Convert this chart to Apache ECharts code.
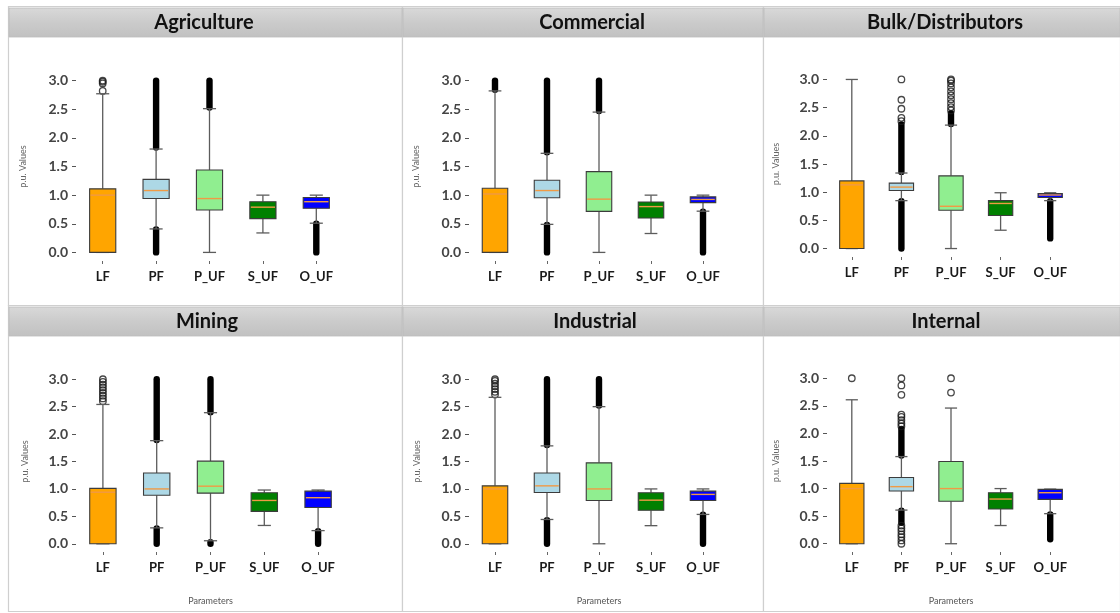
<!DOCTYPE html>
<html>
<head>
<meta charset="utf-8">
<script src="https://cdn.jsdelivr.net/npm/echarts@6/dist/echarts.min.js"></script>
<style>
html,body{margin:0;padding:0;background:#fff;}
#chart{width:1120px;height:613px;}
</style>
</head>
<body>
<div id="chart"></div>
<script>
// ---------- DATA ----------
const categories = ['LF', 'PF', 'P_UF', 'S_UF', 'O_UF'];
const panelTitles = ['Agriculture', 'Commercial', 'Bulk/Distributors', 'Mining', 'Industrial', 'Internal'];
const yTicks = [0, 0.5, 1.0, 1.5, 2.0, 2.5, 3.0];
const yAxisName = 'p.u. Values';
const xAxisName = 'Parameters';

// box stats per category: [lower whisker, Q1, median, Q3, upper whisker]
const agricultureStats = [
  [0, 0, 1.0, 1.11, 2.77],
  [0.41, 0.94, 1.08, 1.275, 1.805],
  [0, 0.74, 0.94, 1.44, 2.51],
  [0.34, 0.59, 0.79, 0.885, 1.0],
  [0.51, 0.77, 0.885, 0.96, 1.0]
];
const commercialStats = [
  [0, 0, 1.02, 1.12, 2.82],
  [0.49, 0.955, 1.08, 1.26, 1.73],
  [0, 0.716, 0.93, 1.41, 2.45],
  [0.33, 0.60, 0.80, 0.88, 1.0],
  [0.72, 0.87, 0.925, 0.97, 1.0]
];
const bulkStats = [
  [0, 0, 1.13, 1.2, 3.0],
  [0.85, 1.03, 1.09, 1.16, 1.34],
  [0, 0.68, 0.75, 1.29, 2.19],
  [0.325, 0.585, 0.80, 0.85, 0.99],
  [0.85, 0.905, 0.95, 0.975, 0.99]
];
const miningStats = [
  [0, 0, 0.94, 1.01, 2.54],
  [0.29, 0.886, 1.0, 1.29, 1.88],
  [0.055, 0.923, 1.05, 1.506, 2.39],
  [0.334, 0.59, 0.79, 0.93, 0.98],
  [0.24, 0.66, 0.84, 0.96, 0.98]
];
const industrialStats = [
  [0, 0, 1.0, 1.056, 2.67],
  [0.443, 0.935, 1.056, 1.29, 1.785],
  [0, 0.79, 1.0, 1.475, 2.5],
  [0.33, 0.61, 0.795, 0.93, 1.0],
  [0.535, 0.79, 0.9, 0.96, 1.0]
];
const internalStats = [
  [0, 0, 1.0, 1.095, 2.61],
  [0.61, 0.955, 1.035, 1.2, 1.58],
  [0, 0.77, 1.0, 1.49, 2.46],
  [0.33, 0.63, 0.81, 0.925, 1.0],
  [0.545, 0.805, 0.925, 0.985, 0.99]
];

// dense outlier runs (overlapping fliers): [category index, from, to]
const agricultureDense = [[1, 1.83, 3.0], [1, 0, 0.40], [2, 2.53, 3.0], [4, 0, 0.50]];
const commercialDense = [[0, 2.84, 3.0], [1, 1.75, 3.0], [1, 0, 0.48], [2, 2.47, 3.0], [4, 0, 0.71]];
const bulkDense = [[1, 1.36, 2.2], [1, 0, 0.84], [2, 2.21, 2.4], [4, 0.18, 0.84]];
const miningDense = [[1, 1.89, 3.0], [1, 0, 0.28], [2, 2.4, 3.0], [2, 0, 0.03], [4, 0, 0.23]];
const industrialDense = [[1, 1.8, 3.0], [1, 0, 0.43], [2, 2.52, 3.0], [4, 0, 0.53]];
const internalDense = [[1, 1.6, 2.08], [1, 0.38, 0.6], [4, 0.08, 0.53]];

// individual outliers: [category index, value]
const agricultureOutliers = [[0, 2.82], [0, 2.95], [0, 2.98], [0, 3.0]];
const commercialOutliers = [];
const bulkOutliers = [[1, 2.26], [1, 2.32], [1, 2.48], [1, 2.64], [1, 3.0],
  [2, 2.45], [2, 2.51], [2, 2.58], [2, 2.65], [2, 2.72], [2, 2.79], [2, 2.86], [2, 2.93], [2, 2.98], [2, 3.0]];
const miningOutliers = [[0, 2.6], [0, 2.65], [0, 2.7], [0, 2.75], [0, 2.8], [0, 2.85], [0, 2.9], [0, 2.95], [0, 3.0]];
const industrialOutliers = [[0, 2.72], [0, 2.77], [0, 2.82], [0, 2.87], [0, 2.92], [0, 2.97], [0, 3.0]];
const internalOutliers = [[0, 3.0], [1, 2.13], [1, 2.18], [1, 2.24], [1, 2.3], [1, 2.34], [1, 2.7], [1, 2.87], [1, 3.0],
  [1, 0.33], [1, 0.28], [1, 0.23], [1, 0.17], [1, 0.12], [1, 0.06], [1, 0.0], [2, 2.74], [2, 3.0]];

const allStats = [agricultureStats, commercialStats, bulkStats, miningStats, industrialStats, internalStats];
const allDense = [agricultureDense, commercialDense, bulkDense, miningDense, industrialDense, internalDense];
const allOutliers = [agricultureOutliers, commercialOutliers, bulkOutliers, miningOutliers, industrialOutliers, internalOutliers];

// ---------- STYLE / LAYOUT ----------
const boxColors = ['#FFA500', '#ADD8E6', '#90EE90', '#008000', '#0000FF'];
const medianColor = '#f09a45';
const FONT = 'Lato, "Open Sans", sans-serif';

const layout = [
  {left: 76, top: 72, width: 267, height: 189, nameGap: 48, tx: 204, ty: 23, showX: false},
  {left: 469, top: 72, width: 260, height: 189, nameGap: 48, tx: 592, ty: 23, showX: false},
  {left: 827, top: 71, width: 248, height: 186, nameGap: 46, tx: 945, ty: 23, showX: false},
  {left: 76, top: 371, width: 269, height: 181, nameGap: 46, tx: 207, ty: 322, showX: true},
  {left: 469, top: 371, width: 260, height: 181, nameGap: 47, tx: 595, ty: 322, showX: true},
  {left: 827, top: 370, width: 248, height: 182, nameGap: 46, tx: 946, ty: 322, showX: true}
];

function renderBox(params, api) {
  const c = api.value(0);
  const p = [1, 2, 3, 4, 5].map(i => api.coord([c, api.value(i)]));
  const x = p[0][0];
  const bw = api.size([1, 0])[0] * 0.49;
  const cw = bw * 0.5;
  const wStyle = {stroke: '#5c5c5c', lineWidth: 1.3, fill: null};
  return {
    type: 'group',
    children: [
      {type: 'line', shape: {x1: x, y1: p[0][1], x2: x, y2: p[1][1]}, style: wStyle},
      {type: 'line', shape: {x1: x, y1: p[3][1], x2: x, y2: p[4][1]}, style: wStyle},
      {type: 'line', shape: {x1: x - cw / 2, y1: p[0][1], x2: x + cw / 2, y2: p[0][1]}, style: wStyle},
      {type: 'line', shape: {x1: x - cw / 2, y1: p[4][1], x2: x + cw / 2, y2: p[4][1]}, style: wStyle},
      {type: 'rect', shape: {x: x - bw / 2, y: p[3][1], width: bw, height: p[1][1] - p[3][1]},
        style: {fill: boxColors[c], stroke: '#3c3c3c', lineWidth: 1.1}},
      {type: 'line', shape: {x1: x - bw / 2 + 1, y1: p[2][1], x2: x + bw / 2 - 1, y2: p[2][1]},
        style: {stroke: medianColor, lineWidth: 1.4}}
    ]
  };
}

function renderDense(params, api) {
  const c = api.value(0);
  const a = api.coord([c, api.value(1)]);
  const b = api.coord([c, api.value(2)]);
  return {
    type: 'line',
    shape: {x1: a[0], y1: a[1], x2: b[0], y2: b[1]},
    style: {stroke: '#000', lineWidth: 6.4, lineCap: 'round'}
  };
}

const grids = [], xAxes = [], yAxes = [], series = [], graphics = [];

// panel frames & headers
const cols = [[8, 402], [402, 763], [763, 1120]];
const rows = [[6, 305, 8, 37], [305, 611, 307, 336]];
rows.forEach(r => {
  cols.forEach(cx => {
    graphics.push({type: 'rect', z: 0, shape: {x: cx[0] + 0.5, y: r[0] + 0.5, width: cx[1] - cx[0], height: r[1] - r[0]},
      style: {fill: '#fff', stroke: '#cfcfcf', lineWidth: 1.2}});
    graphics.push({type: 'rect', z: 1, shape: {x: cx[0] + 1, y: r[2], width: cx[1] - cx[0] - 1, height: r[3] - r[2]},
      style: {fill: new echarts.graphic.LinearGradient(0, 0, 0, 1, [
        {offset: 0, color: '#d9d9d9'}, {offset: 0.5, color: '#cbcbcb'}, {offset: 1, color: '#c1c1c1'}]),
        stroke: '#bdbdbd', lineWidth: 0.8}});
  });
});

panelTitles.forEach((t, i) => {
  const L = layout[i];
  graphics.push({type: 'text', z: 5, x: L.tx, y: L.ty,
    style: {text: t, font: 'bold 20px ' + FONT, fill: '#111', textAlign: 'center', textVerticalAlign: 'middle'}});

  grids.push({left: L.left, top: L.top, width: L.width, height: L.height, show: true,
    borderColor: '#5a5a5a', borderWidth: 1, backgroundColor: '#fff', containLabel: false});

  xAxes.push({type: 'category', gridIndex: i, data: categories, boundaryGap: true, position: 'bottom',
    name: L.showX ? xAxisName : '', nameLocation: 'middle', nameGap: 45,
    nameTextStyle: {fontSize: 9, color: '#555', fontFamily: FONT},
    axisLine: {show: false, onZero: false},
    axisTick: {show: true, alignWithLabel: true, length: 3, lineStyle: {color: '#666'}},
    axisLabel: {fontSize: 13, fontWeight: 'bold', color: '#1a1a1a', fontFamily: FONT, margin: 9},
    splitLine: {show: false}});

  yAxes.push({type: 'value', gridIndex: i, min: -0.15, max: 3.15,
    name: yAxisName, nameLocation: 'middle', nameGap: L.nameGap, nameRotate: 90,
    nameTextStyle: {fontSize: 9, color: '#666', fontFamily: FONT},
    axisLine: {show: false},
    axisTick: {show: true, length: 4, customValues: yTicks, lineStyle: {color: '#555'}},
    axisLabel: {customValues: yTicks, formatter: v => Number(v).toFixed(1), fontSize: 14,
      fontWeight: 'bold', color: '#444', fontFamily: FONT, margin: 8},
    splitLine: {show: false}});

  series.push({type: 'custom', xAxisIndex: i, yAxisIndex: i, z: 2,
    data: allDense[i], encode: {x: 0, y: [1, 2]}, renderItem: renderDense, silent: true});
  series.push({type: 'scatter', xAxisIndex: i, yAxisIndex: i, z: 2,
    data: allOutliers[i], symbol: 'circle', symbolSize: 6.5,
    itemStyle: {color: 'rgba(255,255,255,0)', borderColor: '#1a1a1a', borderWidth: 1.3}, silent: true});
  series.push({type: 'custom', xAxisIndex: i, yAxisIndex: i, z: 3,
    data: allStats[i].map((s, k) => [k].concat(s)), encode: {x: 0, y: [1, 2, 3, 4, 5]},
    renderItem: renderBox, silent: true});
});

const chart = echarts.init(document.getElementById('chart'), null, {renderer: 'canvas'});
chart.setOption({
  animation: false,
  backgroundColor: '#fff',
  graphic: graphics,
  grid: grids,
  xAxis: xAxes,
  yAxis: yAxes,
  series: series
});
</script>
</body>
</html>
